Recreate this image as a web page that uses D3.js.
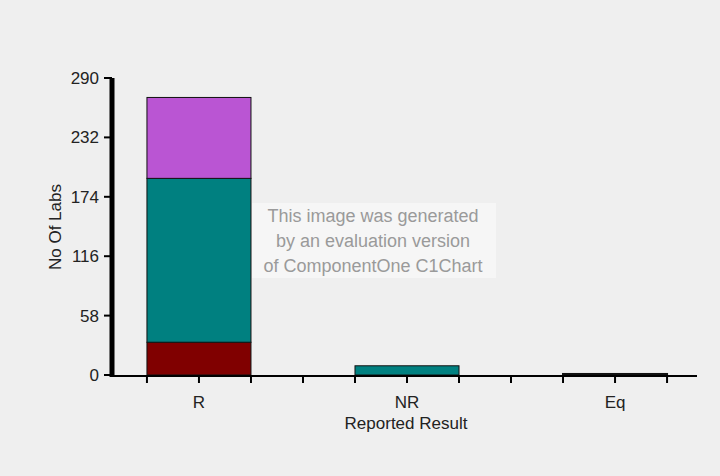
<!DOCTYPE html>
<html>
<head>
<meta charset="utf-8">
<script src="https://cdn.jsdelivr.net/npm/d3@7"></script>
<style>
  body { margin: 0; background: #efefef; }
  #chart { width: 720px; height: 476px; }
  text { font-family: Arial, "Liberation Sans", sans-serif; }
</style>
</head>
<body>
<div id="chart"></div>
<script>
const categories = ['R', 'NR', 'Eq']
const seriesNames = ['s1', 's2', 's3']
const redValues = [32, 0, 1]
const tealValues = [160, 9, 0]
const purpleValues = [79, 0, 0]
const yTicks = [0, 58, 116, 174, 232, 290]
const colors = ['#800000', '#008080', '#ba55d3']

const table = categories.map((c, i) => ({
  cat: c, s1: redValues[i], s2: tealValues[i], s3: purpleValues[i]
}))

const svg = d3.select('#chart')
  .append('svg')
  .attr('width', 720)
  .attr('height', 476)

svg.append('rect')
  .attr('width', 720)
  .attr('height', 476)
  .attr('fill', '#efefef')

const x = d3.scaleBand()
  .domain(categories)
  .range([112, 702])
  .paddingInner(0.5)
  .paddingOuter(0.168)

const y = d3.scaleLinear()
  .domain([0, 290])
  .range([375, 78])

const stacked = d3.stack().keys(seriesNames)(table)

// bars
svg.append('g')
  .selectAll('g')
  .data(stacked)
  .enter()
  .append('g')
  .attr('fill', (d, i) => colors[i])
  .selectAll('rect')
  .data(d => d)
  .enter()
  .filter(d => d[1] - d[0] > 0)
  .append('rect')
  .attr('x', d => x(d.data.cat))
  .attr('y', d => y(d[1]))
  .attr('width', x.bandwidth())
  .attr('height', d => y(d[0]) - y(d[1]))
  .attr('stroke', '#111')
  .attr('stroke-width', d => (y(d[0]) - y(d[1]) < 3 ? 2 : 1))

// x axis
const bw = x.bandwidth()
const xTicks = []
categories.forEach((c, i) => {
  xTicks.push(x(c), x(c) + bw / 2, x(c) + bw)
  if (i < categories.length - 1) xTicks.push(x(c) + bw * 1.5)
})

svg.append('line')
  .attr('x1', 112)
  .attr('x2', 697)
  .attr('y1', y(0) + 1)
  .attr('y2', y(0) + 1)
  .attr('stroke', '#000')
  .attr('stroke-width', 2)

svg.append('g')
  .selectAll('line')
  .data(xTicks)
  .enter()
  .append('line')
  .attr('x1', d => d)
  .attr('x2', d => d)
  .attr('y1', y(0) + 1)
  .attr('y2', y(0) + 8)
  .attr('stroke', '#000')
  .attr('stroke-width', 2)

svg.append('g')
  .selectAll('text')
  .data(categories)
  .enter()
  .append('text')
  .attr('x', d => x(d) + bw / 2)
  .attr('y', 408)
  .attr('text-anchor', 'middle')
  .attr('font-size', 17)
  .attr('fill', '#222')
  .text(d => d)

svg.append('text')
  .attr('x', 406)
  .attr('y', 429)
  .attr('text-anchor', 'middle')
  .attr('font-size', 17)
  .attr('fill', '#222')
  .text('Reported Result')

// y axis
svg.append('line')
  .attr('x1', 112)
  .attr('x2', 112)
  .attr('y1', y(290))
  .attr('y2', y(0) + 2)
  .attr('stroke', '#000')
  .attr('stroke-width', 5)

svg.append('g')
  .selectAll('line')
  .data(yTicks)
  .enter()
  .append('line')
  .attr('x1', 104)
  .attr('x2', 112)
  .attr('y1', d => y(d))
  .attr('y2', d => y(d))
  .attr('stroke', '#000')
  .attr('stroke-width', 2)

svg.append('g')
  .selectAll('text')
  .data(yTicks)
  .enter()
  .append('text')
  .attr('x', 99)
  .attr('y', d => y(d) + 6)
  .attr('text-anchor', 'end')
  .attr('font-size', 17)
  .attr('fill', '#222')
  .text(d => d)

svg.append('text')
  .attr('transform', 'translate(61, 227) rotate(-90)')
  .attr('text-anchor', 'middle')
  .attr('font-size', 17)
  .attr('fill', '#222')
  .text('No Of Labs')

// evaluation watermark
svg.append('rect')
  .attr('x', 252)
  .attr('y', 203)
  .attr('width', 244)
  .attr('height', 75)
  .attr('fill', '#f6f6f6')

const wm = ['This image was generated', 'by an evaluation version', 'of ComponentOne C1Chart']
svg.append('g')
  .selectAll('text')
  .data(wm)
  .enter()
  .append('text')
  .attr('x', 373)
  .attr('y', (d, i) => 222 + i * 25)
  .attr('text-anchor', 'middle')
  .attr('font-size', 18)
  .attr('fill', '#9a9a9a')
  .text(d => d)
</script>
</body>
</html>
